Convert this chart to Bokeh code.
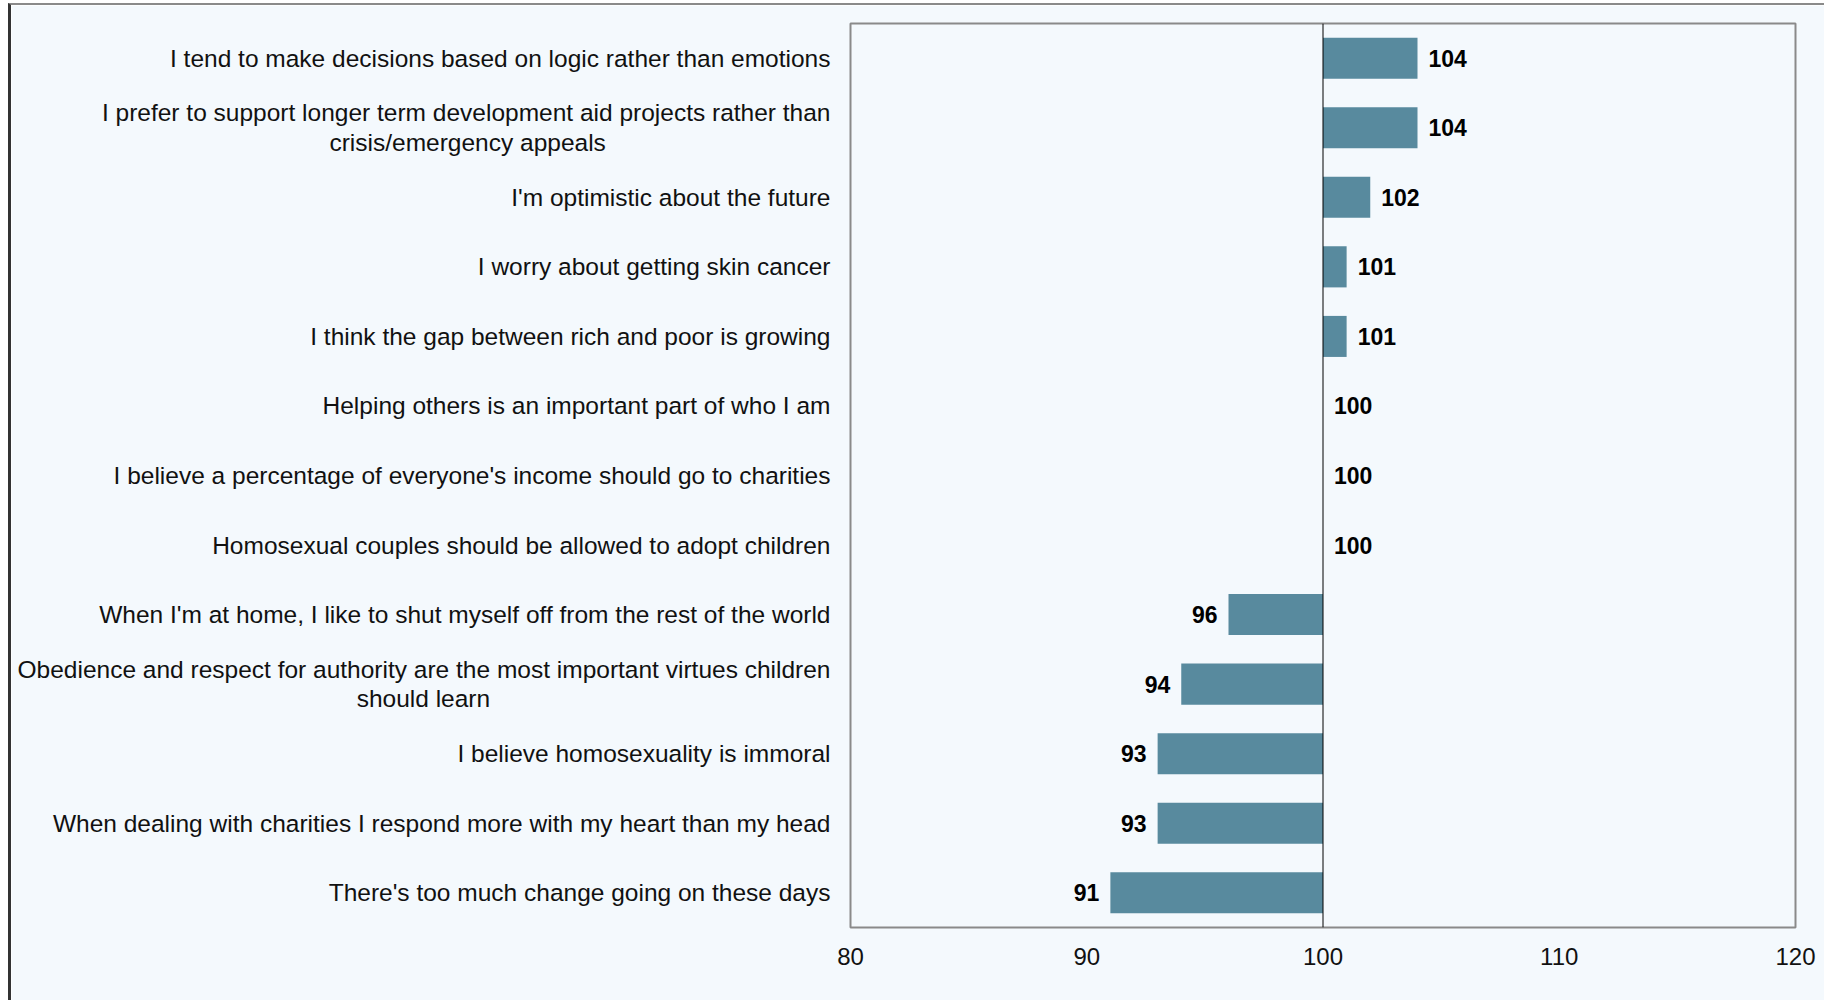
from bokeh.plotting import figure
from bokeh.models import ColumnDataSource, FactorRange, Range1d, FixedTicker, Span
from bokeh.core.properties import value
from bokeh.embed import file_html
from bokeh.resources import INLINE

# ---- data (top to bottom) ----
categories = [
    "I tend to make decisions based on logic rather than emotions",
    "I prefer to support longer term development aid projects rather than\ncrisis/emergency appeals",
    "I'm optimistic about the future",
    "I worry about getting skin cancer",
    "I think the gap between rich and poor is growing",
    "Helping others is an important part of who I am",
    "I believe a percentage of everyone's income should go to charities",
    "Homosexual couples should be allowed to adopt children",
    "When I'm at home, I like to shut myself off from the rest of the world",
    "Obedience and respect for authority are the most important virtues children\nshould learn",
    "I believe homosexuality is immoral",
    "When dealing with charities I respond more with my heart than my head",
    "There's too much change going on these days",
]
index_values = [104, 104, 102, 101, 101, 100, 100, 100, 96, 94, 93, 93, 91]
x_ticks = [80, 90, 100, 110, 120]
baseline = 100

FONT = "Liberation Sans"
BG = "#F4F9FD"
BAR = "#588A9E"

# second lines of wrapped labels are centred under the first line:
# emulate that with trailing no-break spaces (count of space widths)
second_line_pad = {1: 33, 9: 50}
labels = [c + "\u00a0" * second_line_pad.get(i, 0) for i, c in enumerate(categories)]

src = ColumnDataSource(dict(
    y=labels,
    v=index_values,
    base=[baseline] * len(index_values),
    lbl=[str(v) for v in index_values],
    align=["right" if v < baseline else "left" for v in index_values],
    xoff=[-11 if v < baseline else 11 for v in index_values],
))

p = figure(
    width=1817, height=1000,
    y_range=FactorRange(*reversed(labels), range_padding=0),
    x_range=Range1d(80, 120),
    output_backend="svg", toolbar_location=None,
    min_border_left=839, min_border_right=33, min_border_top=18, min_border_bottom=78,
)
p.margin = (3, 0, 0, 8)
p.styles = {"border-left": "3px solid #333333", "border-top": "2px solid #8a8a8a"}

p.background_fill_color = BG
p.border_fill_color = BG
p.outline_line_color = "#8a8a8a"
p.outline_line_width = 2
p.grid.visible = False

p.hbar(y="y", left="base", right="v", height=0.59, source=src,
       fill_color=BAR, line_color=None)

p.add_layout(Span(location=baseline, dimension="height", line_color="black", line_width=1))

p.text(x="v", y="y", text="lbl", source=src, x_offset="xoff",
       text_align="align", text_baseline="middle",
       text_font=value(FONT), text_font_style="bold", text_font_size="23px",
       text_color="black")

xa = p.xaxis[0]
xa.ticker = FixedTicker(ticks=x_ticks)
xa.axis_line_color = None
xa.major_tick_line_color = None
xa.minor_tick_line_color = None
xa.major_tick_out = 0
xa.major_tick_in = 0
xa.major_label_standoff = 20
xa.major_label_text_font = FONT
xa.major_label_text_font_size = "24px"
xa.major_label_text_color = "#111111"

ya = p.yaxis[0]
ya.axis_line_color = None
ya.major_tick_line_color = None
ya.major_tick_out = 0
ya.major_tick_in = 0
ya.major_label_standoff = 20
ya.major_label_text_font = FONT
ya.major_label_text_font_size = "24.5px"
ya.major_label_text_color = "#111111"
ya.major_label_text_line_height = 1.1

open("out.html", "w").write(file_html(p, INLINE))
